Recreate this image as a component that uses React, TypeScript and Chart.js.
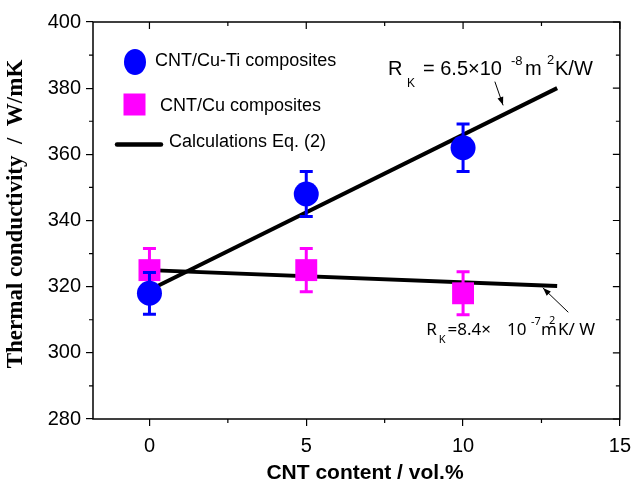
import React, { useEffect, useRef } from 'react';
import { Chart, registerables } from 'chart.js';

Chart.register(...registerables);

// ---- data ----
const contentVol = [0, 5, 10];
const cuTiConductivity = [318, 348, 362];
const cuTiError = [6.3, 6.8, 7.2];
const cuConductivity = [325, 325, 318];
const cuError = [6.5, 6.5, 6.5];
const calcCuTiX = [0, 13];
const calcCuTiY = [319, 380];
const calcCuX = [0, 13];
const calcCuY = [325, 320.2];
const xTickValues = [0, 5, 10, 15];
const xMinorValues = [2.5, 7.5, 12.5];
const yTickValues = [280, 300, 320, 340, 360, 380, 400];
const yMinorValues = [290, 310, 330, 350, 370, 390];
const xRange = [-1.8, 15];
const yRange = [280, 400];
const seriesLabels = ['CNT/Cu-Ti composites', 'CNT/Cu composites', 'Calculations Eq. (2)'];
const xTitle = 'CNT content / vol.%';
const yTitle = 'Thermal conductivity  /  W/mK';

const SANS = '"Liberation Sans", Arial, sans-serif';
const SERIF = '"Liberation Serif", "Times New Roman", serif';
const NOTO = '"Noto Sans", sans-serif';

function arrow(ctx: CanvasRenderingContext2D, x1: number, y1: number, x2: number, y2: number) {
  ctx.save();
  ctx.strokeStyle = '#000';
  ctx.fillStyle = '#000';
  ctx.lineWidth = 1;
  ctx.beginPath();
  ctx.moveTo(x1, y1);
  ctx.lineTo(x2, y2);
  ctx.stroke();
  const a = Math.atan2(y2 - y1, x2 - x1);
  const L = 8, W = 3;
  ctx.beginPath();
  ctx.moveTo(x2, y2);
  ctx.lineTo(x2 - L * Math.cos(a) + W * Math.sin(a), y2 - L * Math.sin(a) - W * Math.cos(a));
  ctx.lineTo(x2 - L * Math.cos(a) - W * Math.sin(a), y2 - L * Math.sin(a) + W * Math.cos(a));
  ctx.closePath();
  ctx.fill();
  ctx.restore();
}

function txt(ctx: CanvasRenderingContext2D, s: string, x: number, y: number, font: string, maxW?: number) {
  ctx.font = font;
  if (maxW) ctx.fillText(s, x, y, maxW);
  else ctx.fillText(s, x, y);
}

const decorPlugin = {
  id: 'decor',
  afterDatasetDraw(chart: any, args: any) {
    const ds: any = chart.data.datasets[args.index];
    if (!ds.errors) return;
    const { ctx, scales } = chart;
    const xs = scales.x, ys = scales.y;
    ctx.save();
    ctx.strokeStyle = ds.backgroundColor;
    ctx.lineWidth = 3;
    ds.data.forEach((p: any, i: number) => {
      const px = xs.getPixelForValue(p.x);
      const t = ys.getPixelForValue(p.y + ds.errors[i]);
      const b = ys.getPixelForValue(p.y - ds.errors[i]);
      ctx.beginPath();
      ctx.moveTo(px, t);
      ctx.lineTo(px, b);
      ctx.moveTo(px - 6.5, t);
      ctx.lineTo(px + 6.5, t);
      ctx.moveTo(px - 6.5, b);
      ctx.lineTo(px + 6.5, b);
      ctx.stroke();
    });
    ctx.restore();
  },
  afterDraw(chart: any) {
    const { ctx, chartArea, scales } = chart;
    const xs = scales.x, ys = scales.y;
    const { left, right, top, bottom } = chartArea;
    ctx.save();
    // frame
    ctx.strokeStyle = '#000';
    ctx.lineWidth = 1.5;
    ctx.strokeRect(left, top, right - left, bottom - top);
    ctx.lineWidth = 1.2;
    ctx.beginPath();
    xMinorValues.forEach((v) => {
      const px = xs.getPixelForValue(v);
      ctx.moveTo(px, bottom);
      ctx.lineTo(px, bottom + 4);
      ctx.moveTo(px, top);
      ctx.lineTo(px, top + 4);
    });
    yMinorValues.forEach((v) => {
      const py = ys.getPixelForValue(v);
      ctx.moveTo(left, py);
      ctx.lineTo(left - 4, py);
      ctx.moveTo(right, py);
      ctx.lineTo(right - 4, py);
    });
    xTickValues.forEach((v) => {
      const px = xs.getPixelForValue(v);
      ctx.moveTo(px, top);
      ctx.lineTo(px, top + 7);
    });
    yTickValues.forEach((v) => {
      const py = ys.getPixelForValue(v);
      ctx.moveTo(right, py);
      ctx.lineTo(right - 7, py);
    });
    ctx.stroke();

    // axis titles
    ctx.fillStyle = '#000';
    ctx.textAlign = 'center';
    ctx.textBaseline = 'middle';
    txt(ctx, xTitle, 365, 473, `bold 21px ${SANS}`);
    ctx.save();
    ctx.translate(16, 214);
    ctx.rotate(-Math.PI / 2);
    txt(ctx, yTitle, 0, 0, `bold 23px ${SERIF}`);
    ctx.restore();

    // legend
    ctx.textAlign = 'left';
    ctx.fillStyle = '#0000FF';
    ctx.beginPath();
    ctx.ellipse(135, 62, 11, 13, 0, 0, Math.PI * 2);
    ctx.fill();
    ctx.fillStyle = '#FF00FF';
    ctx.fillRect(123.5, 93.5, 22, 22);
    ctx.strokeStyle = '#000';
    ctx.lineWidth = 4.5;
    ctx.lineCap = 'round';
    ctx.beginPath();
    ctx.moveTo(117, 144.5);
    ctx.lineTo(161, 144.5);
    ctx.stroke();
    ctx.fillStyle = '#000';
    txt(ctx, seriesLabels[0], 155, 61, `18px ${SANS}`);
    txt(ctx, seriesLabels[1], 160, 106, `18px ${SANS}`);
    txt(ctx, seriesLabels[2], 169, 142, `18px ${SANS}`);

    // annotation 1
    ctx.textBaseline = 'alphabetic';
    txt(ctx, 'R', 388, 75, `20px ${SANS}`);
    txt(ctx, 'K', 407, 87, `12px ${SANS}`);
    txt(ctx, '= 6.5\u00D710', 423, 75, `20px ${SANS}`, 87);
    txt(ctx, '-8', 511, 65, `13px ${SANS}`, 12);
    txt(ctx, 'm', 525, 75, `20px ${SANS}`, 20);
    txt(ctx, '2', 547, 64, `13px ${SANS}`);
    txt(ctx, 'K/W', 555, 75, `20px ${SANS}`, 43);
    arrow(ctx, 495, 82, 503, 105);

    // annotation 2
    const f2 = `17px ${NOTO}`;
    const fs = `11px ${NOTO}`;
    ctx.textAlign = 'right';
    txt(ctx, '=8.4\u00D7', 491, 335, f2);
    ctx.font = f2;
    const wEq = ctx.measureText('=8.4\u00D7').width;
    txt(ctx, 'K', 491 - wEq - 2, 343, fs);
    ctx.font = fs;
    const wK = ctx.measureText('K').width;
    txt(ctx, 'R', 491 - wEq - 2 - wK - 2, 335, f2);
    ctx.textAlign = 'left';
    txt(ctx, '10', 507, 335, f2);
    txt(ctx, '-7', 531, 325, fs);
    txt(ctx, 'm', 541, 335, f2);
    txt(ctx, '2', 549, 324, fs);
    txt(ctx, 'K/ W', 558, 335, f2, 44);
    arrow(ctx, 568, 312, 543, 288);
    ctx.restore();
  },
};

export default function App() {
  const ref = useRef<HTMLCanvasElement>(null);
  useEffect(() => {
    document.body.style.margin = '0';
    const canvas = ref.current!;
    const tickFont = { family: SANS, size: 20 };
    const chart = new Chart(canvas, {
      type: 'scatter',
      data: {
        datasets: [
          {
            label: seriesLabels[0],
            data: contentVol.map((x, i) => ({ x, y: cuTiConductivity[i] })),
            errors: cuTiError,
            pointStyle: 'circle',
            pointRadius: 12.5,
            backgroundColor: '#0000FF',
            borderColor: '#0000FF',
            borderWidth: 0,
            showLine: false,
            order: 1,
          } as any,
          {
            label: seriesLabels[1],
            data: contentVol.map((x, i) => ({ x, y: cuConductivity[i] })),
            errors: cuError,
            pointStyle: 'rect',
            pointRadius: 15.5,
            backgroundColor: '#FF00FF',
            borderColor: '#FF00FF',
            borderWidth: 0,
            showLine: false,
            order: 2,
          } as any,
          {
            label: seriesLabels[2],
            data: calcCuTiX.map((x, i) => ({ x, y: calcCuTiY[i] })),
            showLine: true,
            borderColor: '#000',
            borderWidth: 4,
            pointRadius: 0,
            order: 3,
          },
          {
            label: seriesLabels[2] + ' (Cu)',
            data: calcCuX.map((x, i) => ({ x, y: calcCuY[i] })),
            showLine: true,
            borderColor: '#000',
            borderWidth: 4,
            pointRadius: 0,
            order: 3,
          },
        ],
      },
      options: {
        animation: false,
        responsive: false,
        devicePixelRatio: 1,
        layout: { padding: { left: 0, top: 22, right: 13, bottom: 0 } },
        plugins: { legend: { display: false }, tooltip: { enabled: false } },
        scales: {
          x: {
            type: 'linear',
            bounds: 'data',
            min: xRange[0],
            max: xRange[1],
            afterBuildTicks: (s: any) => {
              s.ticks = xTickValues.map((v) => ({ value: v }));
            },
            afterFit: (s: any) => {
              s.height = 65;
            },
            grid: { display: true, drawOnChartArea: false, drawTicks: true, tickLength: 7, color: '#000', lineWidth: 1.2 },
            border: { display: false },
            ticks: { color: '#000', font: tickFont, padding: 8, maxRotation: 0, autoSkip: false },
          },
          y: {
            type: 'linear',
            bounds: 'data',
            min: yRange[0],
            max: yRange[1],
            afterBuildTicks: (s: any) => {
              s.ticks = yTickValues.map((v) => ({ value: v }));
            },
            afterFit: (s: any) => {
              s.width = 93;
            },
            grid: { display: true, drawOnChartArea: false, drawTicks: true, tickLength: 7, color: '#000', lineWidth: 1.2 },
            border: { display: false },
            ticks: { color: '#000', font: tickFont, padding: 5, autoSkip: false },
          },
        },
      } as any,
      plugins: [decorPlugin],
    });
    return () => chart.destroy();
  }, []);
  return <canvas ref={ref} width={639} height={484} style={{ display: 'block' }} />;
}
